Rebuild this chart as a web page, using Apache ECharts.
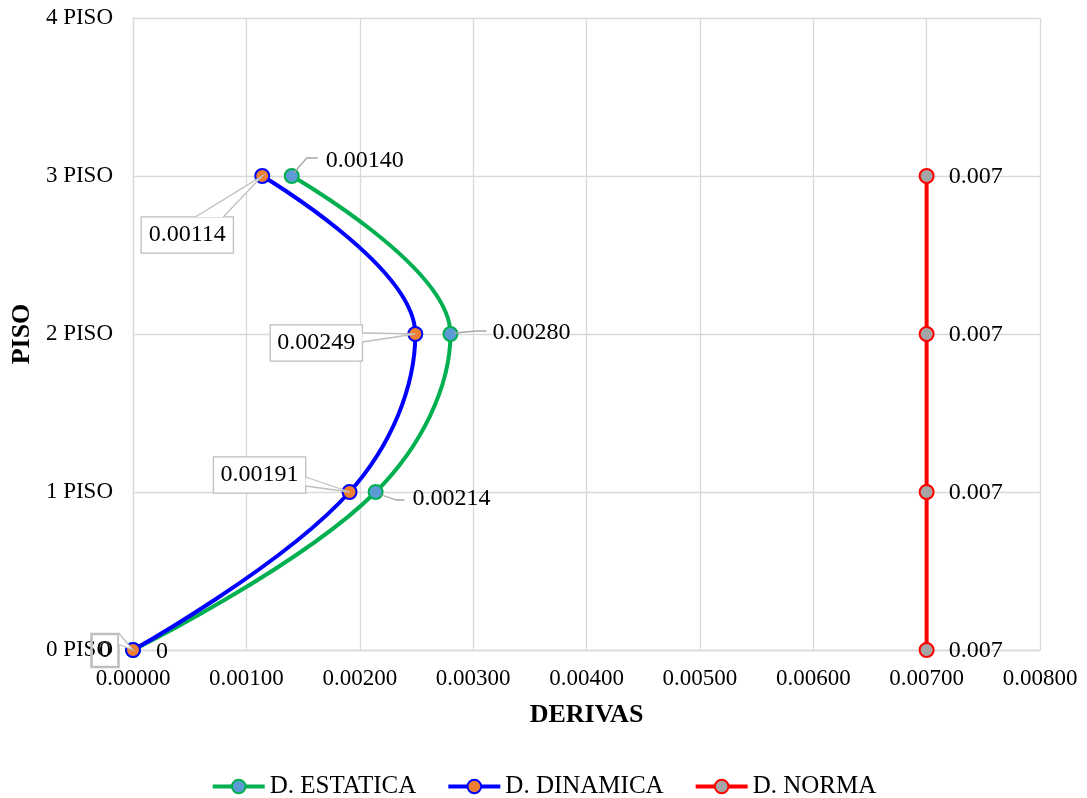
<!DOCTYPE html>
<html>
<head>
<meta charset="utf-8">
<script src="https://cdn.jsdelivr.net/npm/echarts@6/dist/echarts.min.js"></script>
<style>
  html, body { margin: 0; padding: 0; background: #ffffff; }
  #chart { width: 1087px; height: 798px; }
</style>
</head>
<body>
<div id="chart"></div>
<script>
// Story drift per floor
const floors = [0, 1, 2, 3];
const floorLabels = ['0 PISO', '1 PISO', '2 PISO', '3 PISO', '4 PISO'];
const estatica = [0, 0.00214, 0.00280, 0.00140];
const dinamica = [0, 0.00191, 0.00249, 0.00114];
const norma = [0.007, 0.007, 0.007, 0.007];
const seriesNames = ['D. ESTATICA', 'D. DINAMICA', 'D. NORMA'];
const decimals = [5, 5, 3];

const FONT = '"Liberation Serif", "Times New Roman", serif';
const GRID_COLOR = '#d9d9d9';
const CALLOUT_COLOR = '#bfbfbf';
const LEADER_COLOR = '#a6a6a6';

// label anchor offsets (px from marker centre) per series / floor
const labelOffsets = [
  [[23, 2, 'left'], [37, 7, 'left'], [42, -1, 'left'], [34, -15, 'left']],
  [[-28, 0.5, 'center'], [-90, -17, 'center'], [-99, 9, 'center'], [-75, 59, 'center']],
  [[22, 1, 'left'], [22, 1, 'left'], [22, 1, 'left'], [22, 1, 'left']]
];
// callout wedge base points relative to the box centre (D. DINAMICA)
const wedgeBases = [
  [[14, -17], [14, -6]],
  [[46, 2], [46, 11]],
  [[46, -10], [46, -1]],
  [[8, -18], [36, -18]]
];
// leader polylines relative to the marker centre (D. ESTATICA)
const leaders = [
  null,
  [[29, 8], [21, 8], [6, 3]],
  [[36, -3], [26, -3], [4, -1]],
  [[26, -18], [15, -18], [2, -3]]
];

function pairs(xs) { return xs.map((x, i) => [x, floors[i]]); }

function fmt(si) {
  return function (p) {
    const v = p.value[0];
    return v === 0 ? '0' : v.toFixed(decimals[si]);
  };
}

const chart = echarts.init(document.getElementById('chart'), null, { renderer: 'canvas' });

function lineSeries(si, values, lineColor, fillColor, extraLabel) {
  return {
    name: seriesNames[si],
    type: 'line',
    smooth: si < 2 ? 0.38 : false,
    data: pairs(values).map((d, i) => {
      const item = { value: d };
      if (si === 1 && i === 0) {
        item.label = { width: 27, height: 33, lineHeight: 33, backgroundColor: 'transparent' };
      }
      return item;
    }),
    symbol: 'circle',
    symbolSize: 14,
    lineStyle: { color: lineColor, width: 4 },
    itemStyle: { color: fillColor, borderColor: lineColor, borderWidth: 2 },
    label: Object.assign({
      show: true,
      formatter: fmt(si),
      fontFamily: FONT,
      fontSize: 24,
      color: '#000000'
    }, extraLabel || {}),
    labelLayout: function (params) {
      const o = labelOffsets[si][params.dataIndex];
      const r = params.rect;
      return {
        x: r.x + r.width / 2 + o[0],
        y: r.y + r.height / 2 + o[1],
        align: o[2],
        verticalAlign: 'middle'
      };
    },
    z: 3 + si
  };
}

const option = {
  animation: false,
  backgroundColor: '#ffffff',
  textStyle: { fontFamily: FONT },
  grid: { left: 133, right: 47, top: 18, bottom: 148, containLabel: false },
  legend: {
    top: 769,
    left: 'center',
    itemWidth: 52,
    itemHeight: 17,
    itemGap: 30,
    lineStyle: { width: 4 },
    textStyle: { fontFamily: FONT, fontSize: 25, color: '#000000' },
    data: seriesNames
  },
  xAxis: {
    type: 'value',
    min: 0,
    max: 0.008,
    interval: 0.001,
    name: 'DERIVAS',
    nameLocation: 'middle',
    nameGap: 52,
    nameTextStyle: { fontFamily: FONT, fontSize: 26, fontWeight: 'bold', color: '#000000' },
    axisLine: { show: true, lineStyle: { color: GRID_COLOR, width: 1.3 } },
    axisTick: { show: false },
    axisLabel: {
      fontFamily: FONT, fontSize: 23, color: '#000000', margin: 17,
      formatter: v => v.toFixed(5)
    },
    splitLine: { show: true, lineStyle: { color: GRID_COLOR, width: 1.3 } }
  },
  yAxis: {
    type: 'value',
    min: 0,
    max: 4,
    interval: 1,
    name: 'PISO',
    nameLocation: 'middle',
    nameGap: 97,
    nameRotate: 90,
    nameTextStyle: { fontFamily: FONT, fontSize: 26, fontWeight: 'bold', color: '#000000' },
    axisLine: { show: true, lineStyle: { color: GRID_COLOR, width: 1.3 } },
    axisTick: { show: false },
    axisLabel: {
      fontFamily: FONT, fontSize: 23, color: '#000000', margin: 20,
      padding: [3, 0, 0, 0],
      formatter: v => floorLabels[v]
    },
    splitLine: { show: true, lineStyle: { color: GRID_COLOR, width: 1.3 } }
  },
  series: [
    lineSeries(0, estatica, '#00b050', '#5b9bd5'),
    lineSeries(1, dinamica, '#0000ff', '#ed7d31', {
      backgroundColor: '#ffffff',
      borderColor: CALLOUT_COLOR,
      borderWidth: 1.3,
      width: 91,
      height: 35,
      lineHeight: 35,
      align: 'center',
      padding: 0
    }),
    lineSeries(2, norma, '#ff0000', '#a5a5a5')
  ]
};

chart.setOption(option);

// callout wedges and leader lines drawn over the plot
const gfx = [];
dinamica.forEach((x, i) => {
  const p = chart.convertToPixel({ xAxisIndex: 0, yAxisIndex: 0 }, [x, floors[i]]);
  const o = labelOffsets[1][i];
  const c = [p[0] + o[0], p[1] + o[1]];
  const b = wedgeBases[i];
  const a1 = [c[0] + b[0][0], c[1] + b[0][1]];
  const a2 = [c[0] + b[1][0], c[1] + b[1][1]];
  gfx.push({
    type: 'polygon', z: 100,
    shape: { points: [a1, p, a2] },
    style: { fill: '#ffffff', stroke: null }
  });
  gfx.push({
    type: 'polyline', z: 101,
    shape: { points: [a1, p, a2] },
    style: { stroke: CALLOUT_COLOR, lineWidth: 1.3, fill: null }
  });
});
estatica.forEach((x, i) => {
  const l = leaders[i];
  if (!l) return;
  const p = chart.convertToPixel({ xAxisIndex: 0, yAxisIndex: 0 }, [x, floors[i]]);
  gfx.push({
    type: 'polyline', z: 101,
    shape: { points: l.map(q => [p[0] + q[0], p[1] + q[1]]) },
    style: { stroke: LEADER_COLOR, lineWidth: 1.3, fill: null }
  });
});
chart.setOption({ graphic: gfx });
</script>
</body>
</html>
